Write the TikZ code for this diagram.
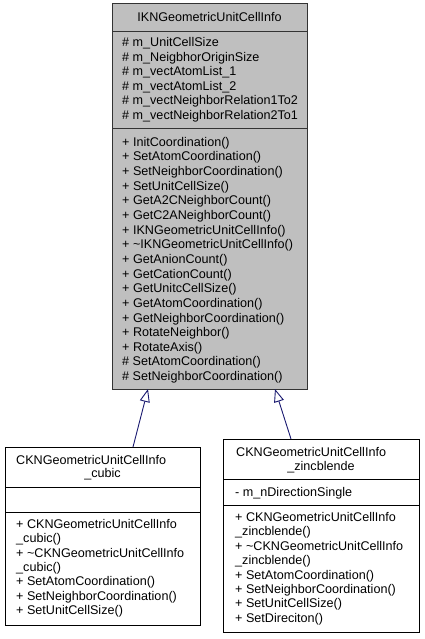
\documentclass[tikz,border=0pt]{standalone}
\usepackage{fontspec}
\setmainfont{Liberation Sans}
\usetikzlibrary{arrows.meta,calc}
\definecolor{edgeblue}{RGB}{25,25,112}
\definecolor{basegray}{RGB}{191,191,191}
\begin{document}
\begin{tikzpicture}[x=1pt,y=-1pt,
  umlbox/.style={draw=black,line width=0.9pt,anchor=north west,inner sep=0pt,outer sep=0pt},
  sepline/.style={draw=black,line width=0.9pt},
  member/.style={anchor=base west,inner sep=0pt,font=\fontsize{12.6}{14.6}\selectfont},
  ctitle/.style={anchor=base,inner sep=0pt,font=\fontsize{12.6}{14.6}\selectfont},
  inherit/.style={draw=edgeblue,line width=0.9pt,-{Triangle[open,length=13pt,width=10pt,fill=white]}}]
\useasboundingbox (0,0) rectangle (424,639);
% base class
\node[umlbox,fill=basegray,draw=black!80,minimum width=195pt,minimum height=386pt] (base) at (112,3) {};
\draw[sepline,draw=black!80] ($(base.north west)+(0,28)$) -- ($(base.north east)+(0,28)$);
\draw[sepline,draw=black!80] ($(base.north west)+(0,125)$) -- ($(base.north east)+(0,125)$);
\node[ctitle] (btitle) at (209.5,21.5) {IKNGeometricUnitCellInfo};
\foreach \t [count=\i from 0] in {{\# m\_UnitCellSize},{\# m\_NeigbhorOriginSize},{\# m\_vectAtomList\_1},{\# m\_vectAtomList\_2},{\# m\_vectNeighborRelation1To2},{\# m\_vectNeighborRelation2To1}}
  \node[member] (ba\i) at (122,{46.5+14.6*\i}) {\t};
\foreach \t [count=\i from 0] in {{+ InitCoordination()},{+ SetAtomCoordination()},{+ SetNeighborCoordination()},{+ SetUnitCellSize()},{+ GetA2CNeighborCount()},{+ GetC2ANeighborCount()},{+ IKNGeometricUnitCellInfo()},{+ \textasciitilde IKNGeometricUnitCellInfo()},{+ GetAnionCount()},{+ GetCationCount()},{+ GetUnitcCellSize()},{+ GetAtomCoordination()},{+ GetNeighborCoordination()},{+ RotateNeighbor()},{+ RotateAxis()},{\# SetAtomCoordination()},{\# SetNeighborCoordination()}}
  \node[member] (bm\i) at (122,{146.2+14.65*\i}) {\t};
% cubic
\node[umlbox,fill=white,minimum width=195pt,minimum height=178pt] (cubic) at (5,447) {};
\draw[sepline] ($(cubic.north west)+(0,40)$) -- ($(cubic.north east)+(0,40)$);
\draw[sepline] ($(cubic.north west)+(0,65)$) -- ($(cubic.north east)+(0,65)$);
\node[member] (ctitle1) at (16,464.5) {CKNGeometricUnitCellInfo};
\node[ctitle] (ctitle2) at (102.5,477) {\_cubic};
\foreach \t [count=\i from 0] in {{+ CKNGeometricUnitCellInfo},{\_cubic()},{+ \textasciitilde CKNGeometricUnitCellInfo},{\_cubic()},{+ SetAtomCoordination()},{+ SetNeighborCoordination()},{+ SetUnitCellSize()}}
  \node[member] (cm\i) at (16,{528.5+14.3*\i}) {\t};
% zincblende
\node[umlbox,fill=white,minimum width=196pt,minimum height=193pt] (zinc) at (223,439) {};
\draw[sepline] ($(zinc.north west)+(0,40)$) -- ($(zinc.north east)+(0,40)$);
\draw[sepline] ($(zinc.north west)+(0,66)$) -- ($(zinc.north east)+(0,66)$);
\node[member] (ztitle1) at (236,456.5) {CKNGeometricUnitCellInfo};
\node[ctitle] (ztitle2) at (321,470.5) {\_zincblende};
\node[member] (za0) at (235,496.5) {- m\_nDirectionSingle};
\foreach \t [count=\i from 0] in {{+ CKNGeometricUnitCellInfo},{\_zincblende()},{+ \textasciitilde CKNGeometricUnitCellInfo},{\_zincblende()},{+ SetAtomCoordination()},{+ SetNeighborCoordination()},{+ SetUnitCellSize()},{+ SetDireciton()}}
  \node[member] (zm\i) at (235,{521.5+14.4*\i}) {\t};
% inheritance
\draw[inherit] ($(cubic.north west)+(128,0)$) -- ($(base.south west)+(36,0)$);
\draw[inherit] ($(zinc.north west)+(68,0)$) -- ($(base.south west)+(163,0)$);
\end{tikzpicture}
\end{document}
